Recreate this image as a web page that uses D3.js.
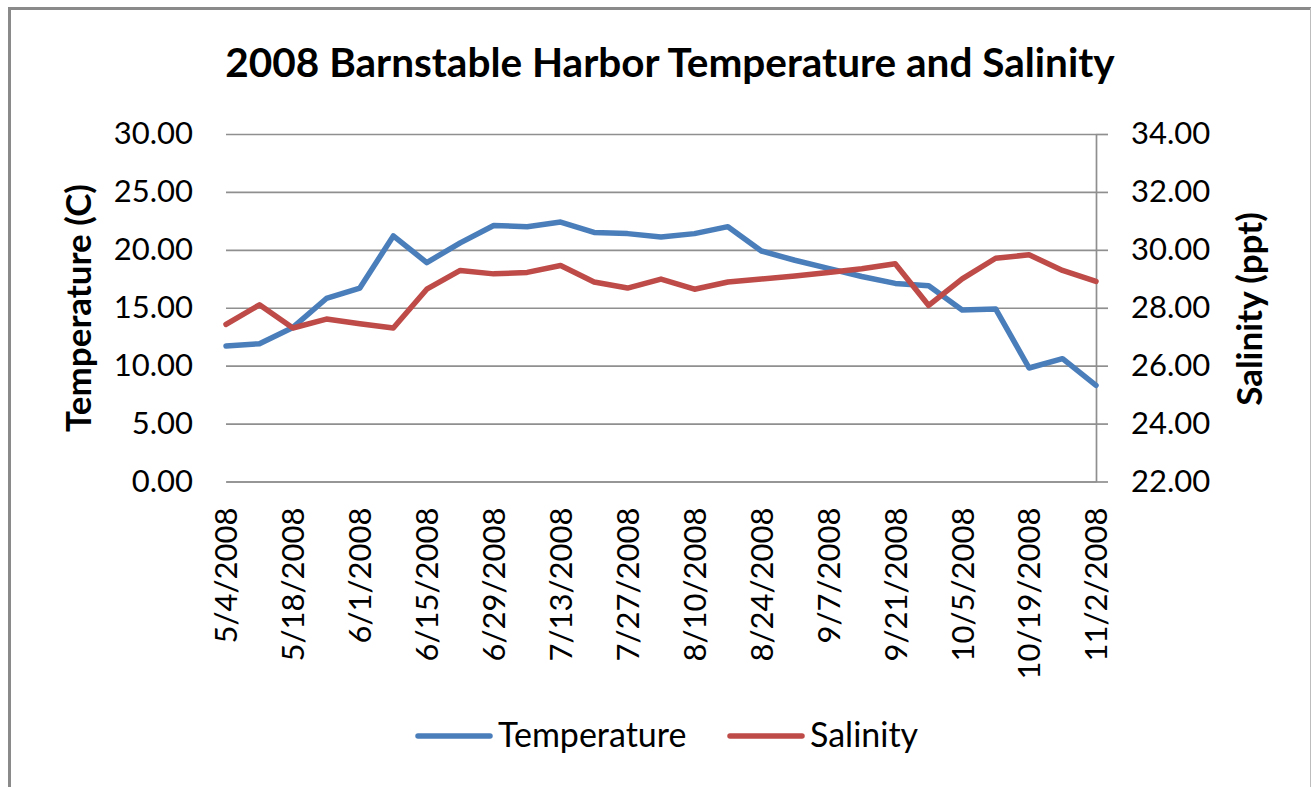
<!DOCTYPE html>
<html>
<head>
<meta charset="utf-8">
<script src="https://cdn.jsdelivr.net/npm/d3@7"></script>
<style>
  body { margin: 0; background: #fff; }
  text { font-family: Lato, "Open Sans", sans-serif; fill: #000; }
  .grid line { stroke: #8f8f8f; stroke-width: 1.7; }
</style>
</head>
<body>
<div id="chart"></div>
<script>
// weekly samples, Barnstable Harbor 2008
var dates = ["5/4/2008", "5/11/2008", "5/18/2008", "5/25/2008", "6/1/2008", "6/8/2008",
  "6/15/2008", "6/22/2008", "6/29/2008", "7/6/2008", "7/13/2008", "7/20/2008", "7/27/2008",
  "8/3/2008", "8/10/2008", "8/17/2008", "8/24/2008", "8/31/2008", "9/7/2008", "9/14/2008",
  "9/21/2008", "9/28/2008", "10/5/2008", "10/12/2008", "10/19/2008", "10/26/2008", "11/2/2008"];

var temperature = [11.7, 11.9, 13.3, 15.8, 16.7, 21.2, 18.9, 20.6, 22.1, 22.0, 22.4, 21.5, 21.4,
  21.1, 21.4, 22.0, 19.9, 19.1, 18.4, 17.7, 17.1, 16.9, 14.8, 14.9, 9.8, 10.6, 8.3];

var salinity = [27.43, 28.10, 27.30, 27.61, 27.45, 27.30, 28.64, 29.29, 29.17, 29.22, 29.46, 28.89, 28.68,
  28.99, 28.64, 28.89, 28.99, 29.10, 29.22, 29.35, 29.52, 28.08, 29.00, 29.71, 29.83, 29.29, 28.91];

// every other week gets a label
var tickDates = ["5/4/2008", "5/18/2008", "6/1/2008", "6/15/2008", "6/29/2008", "7/13/2008",
  "7/27/2008", "8/10/2008", "8/24/2008", "9/7/2008", "9/21/2008", "10/5/2008", "10/19/2008", "11/2/2008"];

var tempTicks = [0, 5, 10, 15, 20, 25, 30];
var salTicks = [22, 24, 26, 28, 30, 32, 34];

(function() {
var width = 1311, height = 787;
// plot box (named so they do not clash with window.top)
var plotLeft = 226, plotRight = 1096, plotTop = 134, plotBottom = 481.5;

var parseTime = d3.timeParse("%m/%d/%Y");

var data = dates.map(function(d, i) {
  return { date: parseTime(d), temp: temperature[i], sal: salinity[i] };
});

var x = d3.scaleTime()
    .domain(d3.extent(data, function(d) { return d.date; }))
    .range([plotLeft, plotRight]);
var y = d3.scaleLinear().domain([0, 30]).range([plotBottom, plotTop]);
var y2 = d3.scaleLinear().domain([22, 34]).range([plotBottom, plotTop]);

var svg = d3.select("#chart").append("svg")
    .attr("width", width)
    .attr("height", height);

// frame of the chart (cropped on the bottom)
svg.append("line").attr("x1", 9.5).attr("x2", 9.5).attr("y1", 7).attr("y2", height)
    .attr("stroke", "#8a8a8a").attr("stroke-width", 3);
svg.append("line").attr("x1", 8).attr("x2", 1311).attr("y1", 8.5).attr("y2", 8.5)
    .attr("stroke", "#8a8a8a").attr("stroke-width", 3);
svg.append("line").attr("x1", 1310.5).attr("x2", 1310.5).attr("y1", 8).attr("y2", height)
    .attr("stroke", "#bdbdbd").attr("stroke-width", 1);

// title
svg.append("text")
    .attr("x", 670).attr("y", 77)
    .attr("text-anchor", "middle")
    .style("font-size", "40.5px").style("font-weight", "bold")
    .text("2008 Barnstable Harbor Temperature and Salinity");

// horizontal gridlines from the left axis
svg.append("g")
    .attr("class", "grid")
    .attr("transform", "translate(" + plotLeft + ",0)")
    .call(d3.axisRight(y).tickValues(tempTicks).tickSize(plotRight - plotLeft).tickFormat(""))
    .call(function(g) { g.select(".domain").remove(); });

// left axis labels (no axis line)
var yAxis = svg.append("g")
    .attr("transform", "translate(" + plotLeft + ",0)")
    .call(d3.axisLeft(y).tickValues(tempTicks).tickSize(0).tickPadding(33).tickFormat(d3.format(".2f")));
yAxis.select(".domain").remove();
yAxis.selectAll("text").style("font-size", "31px").style("font-family", "Lato");

// right axis
var y2Axis = svg.append("g")
    .attr("transform", "translate(" + plotRight + ",0)")
    .call(d3.axisRight(y2).tickValues(salTicks).tickSizeInner(12).tickSizeOuter(0).tickPadding(23).tickFormat(d3.format(".2f")));
y2Axis.select(".domain").attr("stroke", "#8f8f8f").attr("stroke-width", 1.7);
y2Axis.selectAll("line").attr("stroke", "#8f8f8f").attr("stroke-width", 1.7);
y2Axis.selectAll("text").style("font-size", "31px").style("font-family", "Lato");

// bottom axis with rotated date labels
var xAxis = svg.append("g")
    .attr("transform", "translate(0," + plotBottom + ")")
    .call(d3.axisBottom(x).tickValues(tickDates.map(parseTime)).tickSize(0).tickFormat(d3.timeFormat("%-m/%-d/%Y")));
xAxis.select(".domain").attr("stroke", "#8f8f8f").attr("stroke-width", 1.7);
xAxis.selectAll("text")
    .style("font-size", "31px").style("font-family", "Lato")
    .attr("text-anchor", "end")
    .attr("transform", "rotate(-90)")
    .attr("x", -26)
    .attr("y", 0)
    .attr("dy", "0.35em");

// axis titles
svg.append("text")
    .attr("transform", "translate(91,308) rotate(-90)")
    .attr("text-anchor", "middle")
    .style("font-size", "35px").style("font-weight", "bold")
    .text("Temperature (C)");

svg.append("text")
    .attr("transform", "translate(1262,309) rotate(-90)")
    .attr("text-anchor", "middle")
    .style("font-size", "35px").style("font-weight", "bold")
    .text("Salinity (ppt)");

// the two lines
var tempLine = d3.line()
    .x(function(d) { return x(d.date); })
    .y(function(d) { return y(d.temp); });

var salLine = d3.line()
    .x(function(d) { return x(d.date); })
    .y(function(d) { return y2(d.sal); });

svg.append("path")
    .datum(data)
    .attr("fill", "none")
    .attr("stroke", "#4a7ebb")
    .attr("stroke-width", 5.5)
    .attr("stroke-linejoin", "round")
    .attr("stroke-linecap", "round")
    .attr("d", tempLine);

svg.append("path")
    .datum(data)
    .attr("fill", "none")
    .attr("stroke", "#be4b48")
    .attr("stroke-width", 5.5)
    .attr("stroke-linejoin", "round")
    .attr("stroke-linecap", "round")
    .attr("d", salLine);

// legend
var legend = [
  { name: "Temperature", color: "#4a7ebb", x: 418 },
  { name: "Salinity", color: "#be4b48", x: 730 }
];
var lg = svg.selectAll(".legend")
    .data(legend)
  .enter().append("g")
    .attr("class", "legend")
    .attr("transform", function(d) { return "translate(" + d.x + ",736)"; });
lg.append("line")
    .attr("x1", 0).attr("x2", 72)
    .attr("stroke", function(d) { return d.color; })
    .attr("stroke-width", 5.5)
    .attr("stroke-linecap", "round");
lg.append("text")
    .attr("x", 80).attr("y", 11)
    .style("font-size", "34px")
    .text(function(d) { return d.name; });
})();
</script>
</body>
</html>
